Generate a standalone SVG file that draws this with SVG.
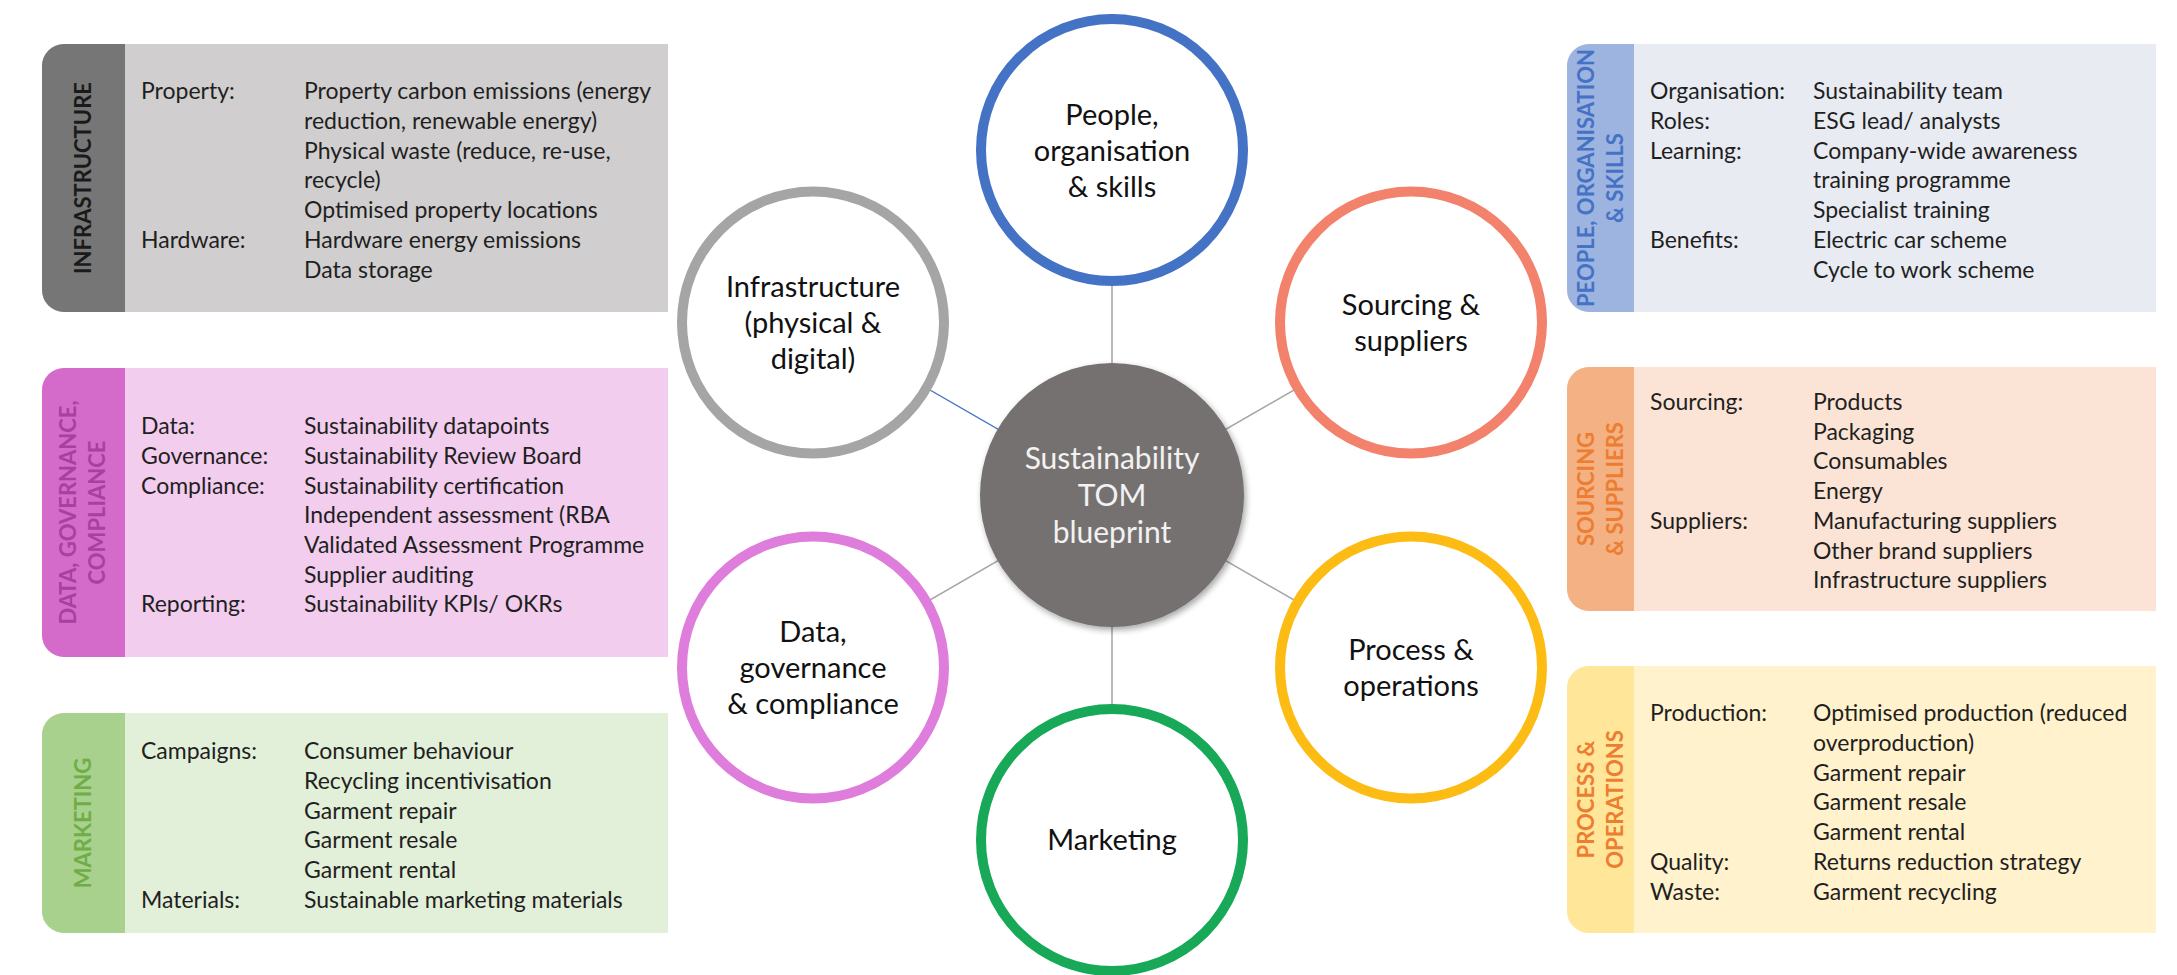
<svg xmlns="http://www.w3.org/2000/svg" width="2177" height="975" viewBox="0 0 2177 975">
<defs>
<style>
.t{font-family:Lato,"Liberation Sans",sans-serif;font-size:23px;fill:#1f1f1f}
.tab{font-family:Lato,"Liberation Sans",sans-serif;font-size:22px;font-weight:bold;text-anchor:middle}
.cl{font-family:Lato,"Liberation Sans",sans-serif;font-size:29px;fill:#111;text-anchor:middle}
.ring{fill:#fff;stroke-width:10}
.conn{stroke:#a6a6a6;stroke-width:1.5;fill:none}
</style>
<filter id="sh" x="-20%" y="-20%" width="140%" height="140%">
<feDropShadow dx="2" dy="3" stdDeviation="3" flood-color="#000" flood-opacity="0.35"/>
</filter>
</defs>
<rect width="2177" height="975" fill="#fff"/>

<g id="connectors">
<line class="conn" x1="1112" y1="150" x2="1112" y2="495"/>
<line class="conn" x1="1112" y1="495" x2="1112" y2="840"/>
<line class="conn" x1="1112" y1="495" x2="1411" y2="322.5"/>
<line class="conn" x1="1112" y1="495" x2="1411" y2="667.5"/>
<line class="conn" x1="1112" y1="495" x2="813" y2="667.5"/>
<line x1="1112" y1="495" x2="813" y2="322.5" stroke="#4472c4" stroke-width="1.2"/>
</g>

<g id="infrastructure-box">
<path d="M64 44H668V312H64A22 22 0 0 1 42 290V66A22 22 0 0 1 64 44Z" fill="#d0cece"/>
<path d="M64 44H125V312H64A22 22 0 0 1 42 290V66A22 22 0 0 1 64 44Z" fill="#767676"/>
<text class="tab" fill="#1a1a1a" transform="translate(91,178) rotate(-90)">INFRASTRUCTURE</text>
<text class="t" x="141" y="99">Property:</text>
<text class="t" x="304" y="99">Property carbon emissions (energy</text>
<text class="t" x="304" y="129">reduction, renewable energy)</text>
<text class="t" x="304" y="158.5">Physical waste (reduce, re-use,</text>
<text class="t" x="304" y="188">recycle)</text>
<text class="t" x="304" y="218">Optimised property locations</text>
<text class="t" x="141" y="248">Hardware:</text>
<text class="t" x="304" y="248">Hardware energy emissions</text>
<text class="t" x="304" y="278">Data storage</text>
</g>

<g id="data-box">
<path d="M64 368H668V657H64A22 22 0 0 1 42 635V390A22 22 0 0 1 64 368Z" fill="#f2cdee"/>
<path d="M64 368H125V657H64A22 22 0 0 1 42 635V390A22 22 0 0 1 64 368Z" fill="#d46bcb"/>
<text class="tab" fill="#a8409f" transform="translate(76,512.5) rotate(-90)">DATA, GOVERNANCE,</text>
<text class="tab" fill="#a8409f" transform="translate(105,512.5) rotate(-90)">COMPLIANCE</text>
<text class="t" x="141" y="434">Data:</text>
<text class="t" x="304" y="434">Sustainability datapoints</text>
<text class="t" x="141" y="464">Governance:</text>
<text class="t" x="304" y="464">Sustainability Review Board</text>
<text class="t" x="141" y="493.5">Compliance:</text>
<text class="t" x="304" y="493.5">Sustainability certification</text>
<text class="t" x="304" y="523">Independent assessment (RBA</text>
<text class="t" x="304" y="553">Validated Assessment Programme</text>
<text class="t" x="304" y="583">Supplier auditing</text>
<text class="t" x="141" y="612">Reporting:</text>
<text class="t" x="304" y="612">Sustainability KPIs/ OKRs</text>
</g>

<g id="marketing-box">
<path d="M64 713H668V933H64A22 22 0 0 1 42 911V735A22 22 0 0 1 64 713Z" fill="#e2efd9"/>
<path d="M64 713H125V933H64A22 22 0 0 1 42 911V735A22 22 0 0 1 64 713Z" fill="#a9d18e"/>
<text class="tab" fill="#70ad47" transform="translate(91,823) rotate(-90)">MARKETING</text>
<text class="t" x="141" y="759">Campaigns:</text>
<text class="t" x="304" y="759">Consumer behaviour</text>
<text class="t" x="304" y="789">Recycling incentivisation</text>
<text class="t" x="304" y="818.5">Garment repair</text>
<text class="t" x="304" y="848">Garment resale</text>
<text class="t" x="304" y="878">Garment rental</text>
<text class="t" x="141" y="907.5">Materials:</text>
<text class="t" x="304" y="907.5">Sustainable marketing materials</text>
</g>

<g id="people-box">
<path d="M1589 44H2156V312H1589A22 22 0 0 1 1567 290V66A22 22 0 0 1 1589 44Z" fill="#e8ebf1"/>
<path d="M1589 44H1634V312H1589A22 22 0 0 1 1567 290V66A22 22 0 0 1 1589 44Z" fill="#9db3e0"/>
<text class="tab" fill="#4472c4" transform="translate(1594,178) rotate(-90)">PEOPLE, ORGANISATION</text>
<text class="tab" fill="#4472c4" transform="translate(1623,178) rotate(-90)">&amp; SKILLS</text>
<text class="t" x="1650" y="99">Organisation:</text>
<text class="t" x="1813" y="99">Sustainability team</text>
<text class="t" x="1650" y="129">Roles:</text>
<text class="t" x="1813" y="129">ESG lead/ analysts</text>
<text class="t" x="1650" y="158.5">Learning:</text>
<text class="t" x="1813" y="158.5">Company-wide awareness</text>
<text class="t" x="1813" y="188">training programme</text>
<text class="t" x="1813" y="218">Specialist training</text>
<text class="t" x="1650" y="248">Benefits:</text>
<text class="t" x="1813" y="248">Electric car scheme</text>
<text class="t" x="1813" y="278">Cycle to work scheme</text>
</g>

<g id="sourcing-box">
<path d="M1589 367H2156V611H1589A22 22 0 0 1 1567 589V389A22 22 0 0 1 1589 367Z" fill="#fbe4d5"/>
<path d="M1589 367H1634V611H1589A22 22 0 0 1 1567 589V389A22 22 0 0 1 1589 367Z" fill="#f4b183"/>
<text class="tab" fill="#ed7d31" transform="translate(1594,489) rotate(-90)">SOURCING</text>
<text class="tab" fill="#ed7d31" transform="translate(1623,489) rotate(-90)">&amp; SUPPLIERS</text>
<text class="t" x="1650" y="410">Sourcing:</text>
<text class="t" x="1813" y="410">Products</text>
<text class="t" x="1813" y="439.5">Packaging</text>
<text class="t" x="1813" y="469">Consumables</text>
<text class="t" x="1813" y="499">Energy</text>
<text class="t" x="1650" y="529">Suppliers:</text>
<text class="t" x="1813" y="529">Manufacturing suppliers</text>
<text class="t" x="1813" y="558.5">Other brand suppliers</text>
<text class="t" x="1813" y="588">Infrastructure suppliers</text>
</g>

<g id="process-box">
<path d="M1589 666H2156V933H1589A22 22 0 0 1 1567 911V688A22 22 0 0 1 1589 666Z" fill="#fff2cc"/>
<path d="M1589 666H1634V933H1589A22 22 0 0 1 1567 911V688A22 22 0 0 1 1589 666Z" fill="#ffe699"/>
<text class="tab" fill="#ed7d31" transform="translate(1594,799.5) rotate(-90)">PROCESS &amp;</text>
<text class="tab" fill="#ed7d31" transform="translate(1623,799.5) rotate(-90)">OPERATIONS</text>
<text class="t" x="1650" y="721">Production:</text>
<text class="t" x="1813" y="721">Optimised production (reduced</text>
<text class="t" x="1813" y="751">overproduction)</text>
<text class="t" x="1813" y="780.5">Garment repair</text>
<text class="t" x="1813" y="810">Garment resale</text>
<text class="t" x="1813" y="840">Garment rental</text>
<text class="t" x="1650" y="870">Quality:</text>
<text class="t" x="1813" y="870">Returns reduction strategy</text>
<text class="t" x="1650" y="899.5">Waste:</text>
<text class="t" x="1813" y="899.5">Garment recycling</text>
</g>

<g id="center-node">
<circle cx="1112" cy="495" r="132" fill="#767171" filter="url(#sh)"/>
<text class="cl" x="1112" y="469" style="fill:#f2f2f2;font-size:30px">Sustainability</text>
<text class="cl" x="1112" y="506" style="fill:#f2f2f2;font-size:30px">TOM</text>
<text class="cl" x="1112" y="543" style="fill:#f2f2f2;font-size:30px">blueprint</text>
</g>

<g id="people-node">
<circle class="ring" cx="1112" cy="150" r="131" stroke="#4472c4"/>
<text class="cl" x="1112" y="125">People,</text>
<text class="cl" x="1112" y="161">organisation</text>
<text class="cl" x="1112" y="197">&amp; skills</text>
</g>

<g id="infrastructure-node">
<circle class="ring" cx="813" cy="322.5" r="131" stroke="#a5a5a5"/>
<text class="cl" x="813" y="297">Infrastructure</text>
<text class="cl" x="813" y="333">(physical &amp;</text>
<text class="cl" x="813" y="369">digital)</text>
</g>

<g id="sourcing-node">
<circle class="ring" cx="1411" cy="322.5" r="131" stroke="#f2826b"/>
<text class="cl" x="1411" y="315">Sourcing &amp;</text>
<text class="cl" x="1411" y="351">suppliers</text>
</g>

<g id="data-node">
<circle class="ring" cx="813" cy="667.5" r="131" stroke="#df7ddc"/>
<text class="cl" x="813" y="642">Data,</text>
<text class="cl" x="813" y="678">governance</text>
<text class="cl" x="813" y="714">&amp; compliance</text>
</g>

<g id="process-node">
<circle class="ring" cx="1411" cy="667.5" r="131" stroke="#fcbc13"/>
<text class="cl" x="1411" y="660">Process &amp;</text>
<text class="cl" x="1411" y="696">operations</text>
</g>

<g id="marketing-node">
<circle class="ring" cx="1112" cy="840" r="131" stroke="#17a858"/>
<text class="cl" x="1112" y="850">Marketing</text>
</g>
</svg>
